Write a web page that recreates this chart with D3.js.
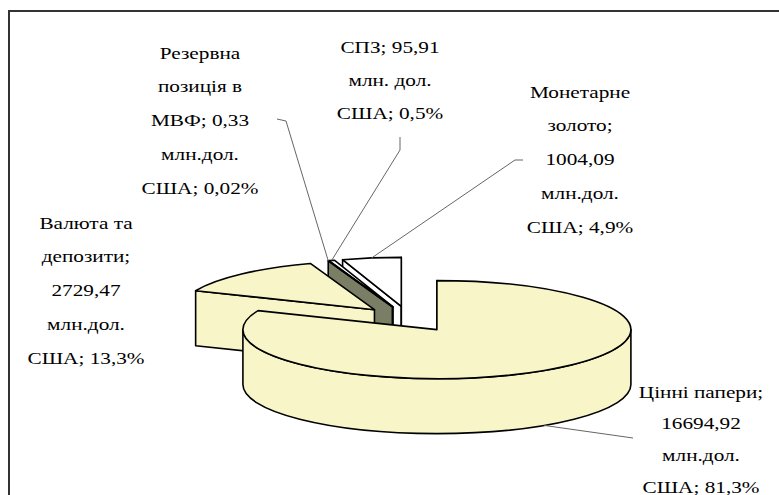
<!DOCTYPE html>
<html>
<head>
<meta charset="utf-8">
<script src="https://cdn.jsdelivr.net/npm/d3@7"></script>
<style>
    html, body { margin: 0; padding: 0; background: #fff; }
    svg { display: block; }
    .leader { fill: none; stroke: #666; stroke-width: 1; }
    .face { stroke: #000; stroke-width: 1.6; stroke-linejoin: round; }
</style>
</head>
<body>
<div id="chart"></div>
<script>
(function () {
    'use strict';

    // Data
    const categories = ['Цінні папери', 'Валюта та депозити', 'Резервна позиція в МВФ', 'СПЗ', 'Монетарне золото'];
    const values = [16694.92, 2729.47, 0.33, 95.91, 1004.09];   // млн. дол. США
    const shares = [81.3, 13.3, 0.02, 0.5, 4.9];                 // %
    // how each category name is wrapped in its label
    const nameLines = [['Цінні папери'], ['Валюта та', 'депозити'], ['Резервна', 'позиція в', 'МВФ'], ['СПЗ'], ['Монетарне', 'золото']];
    const unitLabels = ['млн.дол.', 'млн.дол.', 'млн.дол.', 'млн. дол.', 'млн.дол.'];
    const colors = ['#f8f6c8', '#f8f6c8', '#7a7e64', '#ffffff', '#ffffff'];

    // Layout
    const W = 779, H = 495;
    const PIE = { cx: 409, cy: 319, rx: 194, ry: 49, depth: 55, explode: 0.26 };
    const FONT = 'Liberation Serif';
    const LINE_H = 33.8;
    // label block: centre x, first line centre y, leader points near the label
    const labelLayout = [
        { x: 701, y: 392, lineH: 32, leader: [[633, 438]] },
        { x: 86, y: 223, leader: null },
        { x: 200, y: 53, leader: [[277, 119], [286, 121]] },
        { x: 390, y: 47, lineH: 33.5, leader: [[400, 137], [400, 150]] },
        { x: 580, y: 92, lineH: 34, leader: [[523, 160], [515, 160]] }
    ];

    const fmtLocale = d3.formatLocale({ decimal: ',', thousands: '', grouping: [3], currency: ['', ''] });
    const fmtValue = fmtLocale.format('.2f');
    const fmtShare = v => String(v).replace('.', ',');

    const svg = d3.select('#chart').append('svg')
        .attr('width', W)
        .attr('height', H);

    // chart frame (runs off the right and bottom edge like the source)
    svg.append('path')
        .attr('d', `M9,${H + 5} L9,11 L${W + 5},11`)
        .attr('fill', 'none')
        .attr('stroke', '#333')
        .attr('stroke-width', 2);

    const slices = d3.pie().sort(null).startAngle(0).endAngle(2 * Math.PI)(values)
        .map((d, i) => {
            const mid = (d.startAngle + d.endAngle) / 2;
            return {
                i,
                a0: d.startAngle,
                a1: d.endAngle,
                mid,
                ox: PIE.cx + PIE.explode * PIE.rx * Math.sin(mid),
                oy: PIE.cy - PIE.explode * PIE.ry * Math.cos(mid)
            };
        });

    function pt(s, t, down) {
        return [s.ox + PIE.rx * Math.sin(t), s.oy - PIE.ry * Math.cos(t) + (down ? PIE.depth : 0)];
    }

    function arcTo(p, large, sweep) {
        return `A${PIE.rx},${PIE.ry} 0 ${large ? 1 : 0} ${sweep} ${p[0]},${p[1]}`;
    }

    function topFace(s) {
        const c = [s.ox, s.oy];
        const p0 = pt(s, s.a0), p1 = pt(s, s.a1);
        return `M${c}L${p0}${arcTo(p1, s.a1 - s.a0 > Math.PI, 1)}Z`;
    }

    function radialFace(s, t) {
        const c = [s.ox, s.oy], cb = [s.ox, s.oy + PIE.depth];
        return `M${c}L${pt(s, t)}L${pt(s, t, true)}L${cb}Z`;
    }

    function outerFace(s) {
        const from = Math.max(s.a0, Math.PI / 2), to = Math.min(s.a1, 3 * Math.PI / 2);
        if (to <= from) return null;
        const large = to - from > Math.PI;
        return `M${pt(s, from)}${arcTo(pt(s, to), large, 1)}L${pt(s, to, true)}${arcTo(pt(s, from, true), large, 0)}Z`;
    }

    // back slices first
    const order = slices.slice().sort((a, b) => a.oy - b.oy);
    const g = svg.append('g');
    order.forEach(s => {
        const faces = [];
        if (Math.sin(s.a0) <= 1e-6) faces.push(radialFace(s, s.a0));
        if (Math.sin(s.a1) >= -1e-6) faces.push(radialFace(s, s.a1));
        const side = outerFace(s);
        if (side) faces.push(side);
        faces.push(topFace(s));
        faces.forEach(d => {
            g.append('path')
                .attr('class', 'face')
                .attr('d', d)
                .attr('fill', colors[s.i]);
        });
    });

    // leader lines
    slices.forEach(s => {
        const lay = labelLayout[s.i];
        if (!lay.leader) return;
        const end = pt(s, s.mid, Math.cos(s.mid) < 0);
        svg.append('path')
            .attr('class', 'leader')
            .attr('d', d3.line()(lay.leader.concat([end])));
    });

    // labels
    categories.forEach((name, i) => {
        const lay = labelLayout[i];
        const lh = lay.lineH || LINE_H;
        const lines = nameLines[i].slice();
        const valueText = fmtValue(values[i]);
        const last = lines.length - 1;
        if (name === 'СПЗ') {
            lines[last] = lines[last] + '; ' + valueText;
        } else if (lines.length === 3) {
            lines[last] = lines[last] + '; ' + fmtShare(values[i]);
        } else {
            lines[last] = lines[last] + ';';
            lines.push(valueText);
        }
        lines.push(unitLabels[i]);
        lines.push('США; ' + fmtShare(shares[i]) + '%');

        const t = svg.append('text')
            .attr('font-family', FONT)
            .attr('font-size', 17)
            .attr('fill', '#000')
            .attr('text-anchor', 'middle')
            .attr('transform', `translate(${lay.x},${lay.y + 5.5}) scale(1.25,1)`);
        lines.forEach((line, k) => {
            t.append('tspan')
                .attr('x', 0)
                .attr('y', k * lh)
                .text(line);
        });
    });
})();
</script>
</body>
</html>
